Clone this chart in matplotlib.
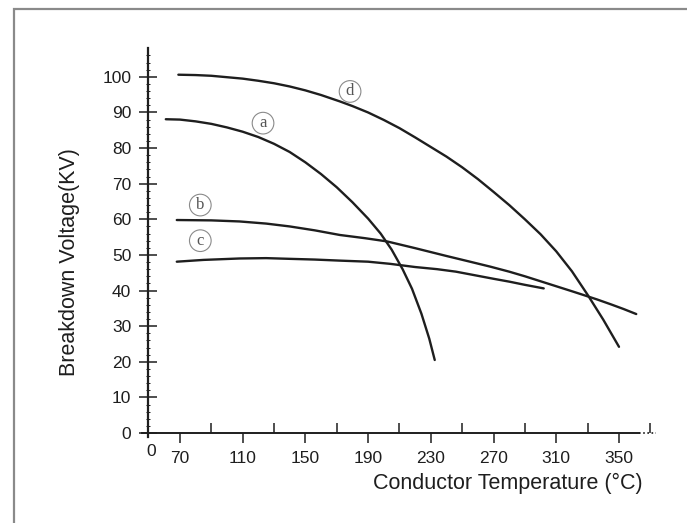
import matplotlib
matplotlib.use("Agg")
import matplotlib.pyplot as plt
from matplotlib.patches import Rectangle

# Breakdown voltage vs conductor temperature, four cable samples
temp_a = [61, 70, 80, 90, 100, 110, 120, 130, 140, 150, 160, 170, 180, 190, 198, 205, 212, 218, 224, 229, 232.5]
volt_a = [88.1, 88.0, 87.5, 86.8, 85.8, 84.6, 83.1, 81.2, 78.9, 76.0, 72.7, 69.0, 64.8, 60.2, 56.0, 51.5,
          46.0, 40.5, 33.5, 26.5, 20.5]

temp_b = [68, 90, 108, 125, 140, 156, 172, 188, 202, 220, 240, 255, 268, 280, 290, 300, 310, 320, 327, 336, 345, 353, 361]
volt_b = [59.8, 59.7, 59.4, 58.8, 58.0, 56.9, 55.6, 54.7, 53.8, 51.9, 49.7, 48.1, 46.7, 45.3, 44.0, 42.6,
          41.2, 39.8, 38.8, 37.5, 36.1, 34.8, 33.4]

temp_c = [68, 85, 108, 125, 140, 156, 172, 190, 204, 220, 234, 246, 258, 270, 280, 290, 302]
volt_c = [48.1, 48.6, 49.0, 49.1, 48.9, 48.7, 48.4, 48.1, 47.5, 46.6, 46.0, 45.3, 44.3, 43.3, 42.5, 41.6, 40.6]

temp_d = [69, 80, 90, 100, 110, 120, 130, 140, 150, 160, 172, 180, 190, 200, 210, 220, 230, 240, 250, 260,
          270, 280, 290, 300, 310, 320, 330, 340, 350]
volt_d = [100.6, 100.5, 100.3, 99.9, 99.5, 98.9, 98.2, 97.3, 96.2, 94.9, 93.1, 91.8, 90.0, 87.9, 85.6, 83.0,
          80.3, 77.6, 74.6, 71.3, 67.7, 64.0, 60.0, 55.8, 51.0, 45.4, 38.8, 31.8, 24.2]

curve_tags = ["a", "b", "c", "d"]
tag_pos = [(123, 87.0), (83, 64.0), (83, 54.0), (178.5, 95.9)]

x_ticks = [70, 110, 150, 190, 230, 270, 310, 350]
x_tick_labels = ["70", "110", "150", "190", "230", "270", "310", "350"]
x_minor = [90, 130, 170, 210, 250, 290, 330, 370]
y_ticks = [0, 10, 20, 30, 40, 50, 60, 70, 80, 90, 100]
y_tick_labels = [str(v) for v in y_ticks]
origin_label = "0"

plt.rcParams["font.family"] = ["Liberation Sans", "DejaVu Sans"]
ink = "#1e1e1e"

fig = plt.figure(figsize=(6.87, 5.23), dpi=100)
fig.patches.append(Rectangle((13.5 / 687, -0.1), 1.0, 1.1 - 9.5 / 523,
                             transform=fig.transFigure, fill=False,
                             edgecolor="#8a8a8a", lw=1.6))

ax = fig.add_axes([141.5 / 687, 1 - 433 / 523, (656 - 141.5) / 687, (433 - 48) / 523])
ax.set_xlim(45.5, 373.6)
ax.set_ylim(0, 108.1)

for xs, ys in [(temp_a, volt_a), (temp_b, volt_b), (temp_c, volt_c), (temp_d, volt_d)]:
    ax.plot(xs, ys, color=ink, lw=1.7, solid_capstyle="round", solid_joinstyle="round")

for tag, (tx, ty) in zip(curve_tags, tag_pos):
    ax.text(tx, ty, tag, family=["Liberation Serif", "DejaVu Serif"], fontsize=12,
            color="#555555", ha="center", va="center",
            bbox=dict(boxstyle="circle,pad=0.17", fc="white", ec="#8a8a8a", lw=0.8))

for side in ["top", "right"]:
    ax.spines[side].set_visible(False)
ax.spines["left"].set_position(("data", 49.6))
ax.spines["left"].set_bounds(-1, 108.1)
ax.spines["left"].set_linewidth(1.6)
ax.spines["bottom"].set_linewidth(1.4)
ax.spines["bottom"].set_bounds(45.5, 363)
for sp in ["left", "bottom"]:
    ax.spines[sp].set_color(ink)
ax.plot([363, 373.6], [0, 0], color=ink, lw=1.2, ls=(0, (1, 1.5)), clip_on=False)

ax.set_xticks(x_ticks, x_tick_labels)
ax.set_xticks(x_minor, minor=True)
ax.tick_params(axis="x", which="major", direction="out", length=7, width=1.1,
               color=ink, labelsize=12.5, pad=6, labelcolor=ink)
ax.tick_params(axis="x", which="minor", direction="in", length=7, width=1.1, color=ink)

ax.set_yticks(y_ticks, y_tick_labels)
ax.set_yticks(range(0, 108, 2), minor=True)
ax.tick_params(axis="y", which="major", direction="inout", length=13, width=1.1,
               color=ink, labelsize=12.5, pad=5.5, labelcolor=ink)
ax.tick_params(axis="y", which="minor", direction="inout", length=2.5, width=0.7, color=ink)

ax.annotate(origin_label, (51.5, 0), xytext=(0, -13.5), textcoords="offset points",
            ha="center", va="center", fontsize=12.5, color=ink, annotation_clip=False)

fig.text(69 / 687, 1 - 262 / 523, "Breakdown Voltage(KV)", rotation=90,
         ha="center", va="center", fontsize=15.5, color=ink)
fig.text(508 / 687, 1 - 483 / 523, "Conductor Temperature (°C)",
         ha="center", va="center", fontsize=15.5, color=ink)

fig.savefig("out.png", dpi=100)
